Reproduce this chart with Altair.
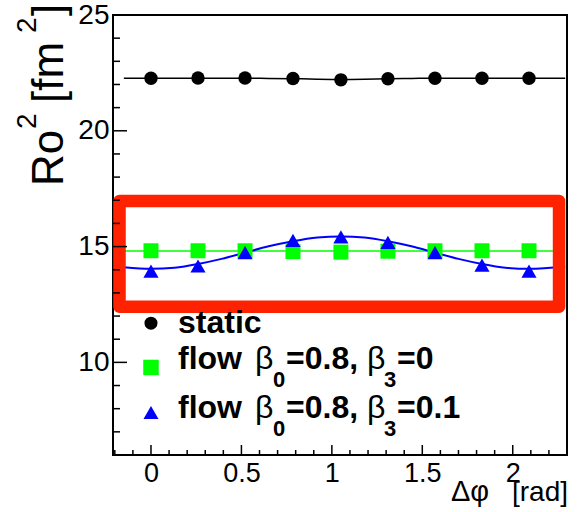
import altair as alt
import pandas as pd

# ---- data ----
phi = [0.0, 0.26, 0.52, 0.785, 1.05, 1.31, 1.57, 1.83, 2.09]
ro2_static = [22.27, 22.28, 22.28, 22.26, 22.20, 22.25, 22.27, 22.27, 22.27]
ro2_flow_b3_0 = [14.82, 14.82, 14.82, 14.78, 14.76, 14.80, 14.82, 14.82, 14.82]
ro2_flow_b3_01 = [13.94, 14.16, 14.74, 15.27, 15.42, 15.18, 14.74, 14.20, 13.94]

fit_phi = [-0.15, 0.0, 0.13, 0.26, 0.39, 0.52, 0.65, 0.785, 0.92, 1.05,
           1.18, 1.31, 1.44, 1.57, 1.70, 1.83, 1.96, 2.09, 2.29]
fit_static = [22.27, 22.27, 22.27, 22.27, 22.27, 22.27, 22.26, 22.25, 22.23, 22.22,
              22.23, 22.25, 22.26, 22.27, 22.27, 22.27, 22.27, 22.27, 22.27]
fit_flow_b3_0 = [14.81, 14.81, 14.81, 14.81, 14.81, 14.81, 14.81, 14.81, 14.81, 14.81,
                 14.81, 14.81, 14.81, 14.81, 14.81, 14.81, 14.81, 14.81, 14.81]
fit_flow_b3_01 = [14.11, 14.04, 14.09, 14.25, 14.47, 14.74, 15.01, 15.23, 15.39, 15.44,
                  15.39, 15.23, 15.01, 14.74, 14.47, 14.25, 14.09, 14.04, 14.14]

# highlight box (data coordinates)
box_x = [-0.174, 2.256]
box_y = [12.40, 16.97]

# legend marker positions (data coordinates)
legend_x = [0.0, 0.0, 0.0]
legend_y = [11.69, 9.78, 7.84]

x_domain = [-0.21, 2.30]
y_domain = [6, 25]
x_major = [0, 0.5, 1, 1.5, 2]
x_minor = [-0.2, -0.1, 0.1, 0.2, 0.3, 0.4, 0.6, 0.7, 0.8, 0.9, 1.1, 1.2, 1.3, 1.4,
           1.6, 1.7, 1.8, 1.9, 2.1, 2.2]
y_major = [10, 15, 20, 25]
y_minor = [6, 7, 8, 9, 11, 12, 13, 14, 16, 17, 18, 19, 21, 22, 23, 24]

FONT = "Liberation Sans"
W, H = 454, 440

xs = alt.Scale(domain=x_domain, nice=False, zero=False)
ys = alt.Scale(domain=y_domain, nice=False, zero=False)
xa = alt.Axis(values=x_major, format="~g", ticks=False, domain=False, grid=False,
              title=None, labelFont=FONT, labelFontSize=27, labelColor="black",
              labelPadding=5, labelFlush=False)
ya = alt.Axis(values=y_major, ticks=False, domain=False, grid=False, title=None,
              labelFont=FONT, labelFontSize=28, labelColor="black", labelPadding=4)


def X(f="x"):
    return alt.X(f"{f}:Q", scale=xs, axis=xa)


def Y(f="y"):
    return alt.Y(f"{f}:Q", scale=ys, axis=ya)


def line(xv, yv, color, width):
    df = pd.DataFrame({"x": xv, "y": yv})
    return alt.Chart(df).mark_line(color=color, strokeWidth=width, interpolate="monotone",
                                   clip=True).encode(x=X(), y=Y())


def pts(xv, yv, color, shape, size):
    df = pd.DataFrame({"x": xv, "y": yv})
    return alt.Chart(df).mark_point(filled=True, color=color, shape=shape, size=size,
                                    opacity=1, strokeWidth=0).encode(x=X(), y=Y())


one = pd.DataFrame({"d": [0]})


def txt(text, x, y, size, weight="normal", angle=0, align="left"):
    return alt.Chart(one).mark_text(text=text, font=FONT, fontSize=size, fontWeight=weight,
                                    angle=angle, align=align, baseline="alphabetic",
                                    color="black").encode(x=alt.value(x), y=alt.value(y))


layers = []
layers.append(line(fit_phi, fit_static, "black", 1.5))
layers.append(line(fit_phi, fit_flow_b3_0, "#00ff00", 1.5))
layers.append(line(fit_phi, fit_flow_b3_01, "#0000ff", 2))
layers.append(pts(phi, ro2_static, "black", "circle", 180))
layers.append(pts(phi, ro2_flow_b3_0, "#00ff00", "square", 225))
layers.append(pts(phi, ro2_flow_b3_01, "#0000ff", "triangle-up", 230))

box_df = pd.DataFrame({"x": [box_x[0]], "x2": [box_x[1]], "y": [box_y[0]], "y2": [box_y[1]]})
layers.append(alt.Chart(box_df).mark_rect(fillOpacity=0, stroke="#ff2200", strokeWidth=12.5,
                                          strokeJoin="round").encode(
    x=X(), x2="x2:Q", y=Y(), y2="y2:Q"))

# legend markers
layers.append(pts([legend_x[0]], [legend_y[0]], "black", "circle", 170))
layers.append(pts([legend_x[1]], [legend_y[1]], "#00ff00", "square", 240))
layers.append(pts([legend_x[2]], [legend_y[2]], "#0000ff", "triangle-up", 225))

# legend text
layers.append(txt("static", 65, 318, 32, "bold"))
for base, sub, last in [(354, 372, "=0"), (403, 421, "=0.1")]:
    layers.append(txt("flow", 65, base, 32, "bold"))
    layers.append(txt("β", 142, base, 32))
    layers.append(txt("0", 160, sub, 22, "bold"))
    layers.append(txt("=0.8,", 173, base, 32, "bold"))
    layers.append(txt("β", 254, base, 32))
    layers.append(txt("3", 271, sub, 22, "bold"))
    layers.append(txt(last, 284, base, 32, "bold"))

# inward tick marks
layers.append(alt.Chart(pd.DataFrame({"y": y_minor})).mark_rule(color="black", strokeWidth=1.5)
              .encode(y=Y(), x=alt.value(0), x2=alt.value(7)))
layers.append(alt.Chart(pd.DataFrame({"y": y_major})).mark_rule(color="black", strokeWidth=1.5)
              .encode(y=Y(), x=alt.value(0), x2=alt.value(14)))
layers.append(alt.Chart(pd.DataFrame({"x": x_minor})).mark_rule(color="black", strokeWidth=1.5)
              .encode(x=X(), y=alt.value(H), y2=alt.value(H - 5)))
layers.append(alt.Chart(pd.DataFrame({"x": x_major})).mark_rule(color="black", strokeWidth=1.5)
              .encode(x=X(), y=alt.value(H), y2=alt.value(H - 10)))

# y axis title  Ro^2 [fm^2]
layers.append(txt("Ro", -50, 171, 44, angle=270))
layers.append(txt("2", -77, 114, 28, angle=270))
layers.append(txt("[fm", -50, 88, 44, angle=270))
layers.append(txt("2", -77, 18, 28, angle=270))
layers.append(txt("]", -50, 1, 44, angle=270))

# x axis title (bottom right, as in the reference)
layers.append(txt("Δφ", 338, 486, 29))
layers.append(txt("[rad]", 455, 486, 28, align="right"))

chart = alt.layer(*layers).properties(
    width=W, height=H,
    padding={"left": 113, "top": 15, "right": 12, "bottom": 57},
    autosize=alt.AutoSizeParams(type="none"),
    background="white",
).configure_view(stroke="black", strokeWidth=2)

chart.save("out.html", embed_options={"renderer": "svg", "actions": False})
